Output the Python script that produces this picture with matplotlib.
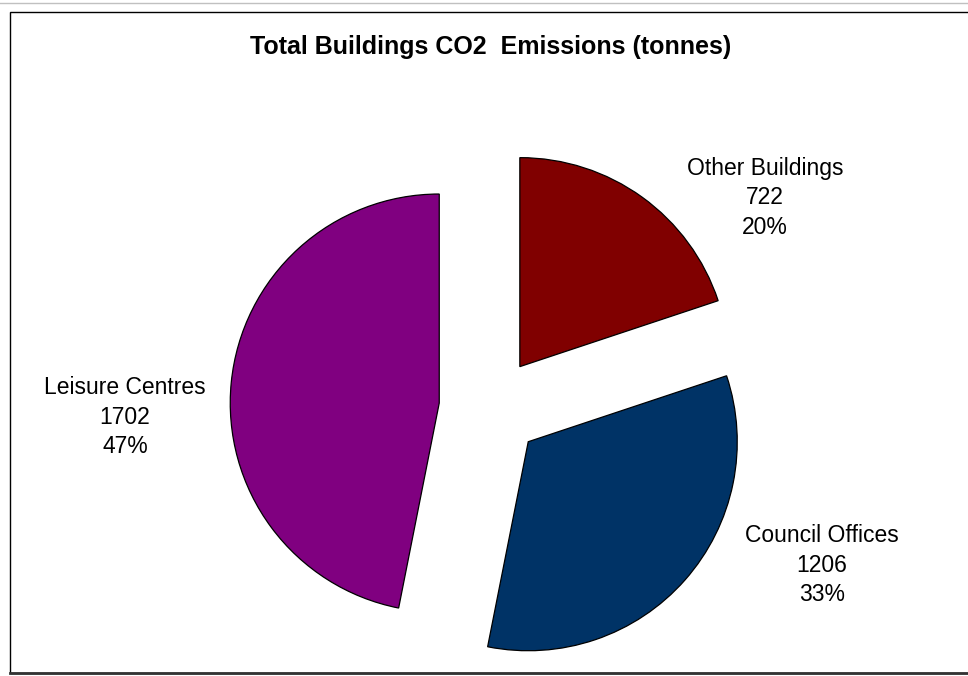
import matplotlib.pyplot as plt
from matplotlib.patches import Rectangle

plt.rcParams['font.family'] = ['Liberation Sans', 'DejaVu Sans']

# CO2 emissions per building type (tonnes)
categories = ['Other Buildings', 'Council Offices', 'Leisure Centres']
emissions = [722, 1206, 1702]
colors = ['#800000', '#003366', '#800080']

total = sum(emissions)
percents = [v / total * 100 for v in emissions]

W, H = 968, 676
fig = plt.figure(figsize=(W / 100, H / 100), dpi=100)
ax = fig.add_axes([0, 0, 1, 1])

# work in pixel units, y pointing up
radius = 209
centre = (490, H - 408)
ax.pie(emissions, colors=colors, startangle=90, counterclock=False,
       radius=radius, center=centre, explode=[0.244 * radius] * 3,
       wedgeprops=dict(edgecolor='black', linewidth=0.9))
ax.set_xlim(0, W)
ax.set_ylim(0, H)
ax.set_aspect('equal')
ax.axis('off')

# data labels placed beside each slice
label_pos = [(765, H - 198), (822, H - 565), (125, H - 417)]
for (x, y), name, val, pct in zip(label_pos, categories, emissions, percents):
    ax.text(x, y, f'{name}\n{val}\n{pct:.0f}%', ha='center', va='center',
            fontsize=16.5, linespacing=1.36, color='black')

ax.text(491, H - 47, 'Total Buildings CO2  Emissions (tonnes)', ha='center',
        va='center', fontsize=18, fontweight='bold')

# chart area frame with its shadow
ax.plot([0, W], [H - 2.7, H - 2.7], color='#c0c0c0', lw=1, clip_on=False)
ax.add_patch(Rectangle((9.5, H - 672.5), 980, 672.5 - 11.7, fill=False,
                       edgecolor='black', lw=1, clip_on=False))
ax.plot([9.5, W], [H - 673.3, H - 673.3], color='#333333', lw=2, clip_on=False)

fig.savefig('out.png', dpi=100, facecolor='white')
